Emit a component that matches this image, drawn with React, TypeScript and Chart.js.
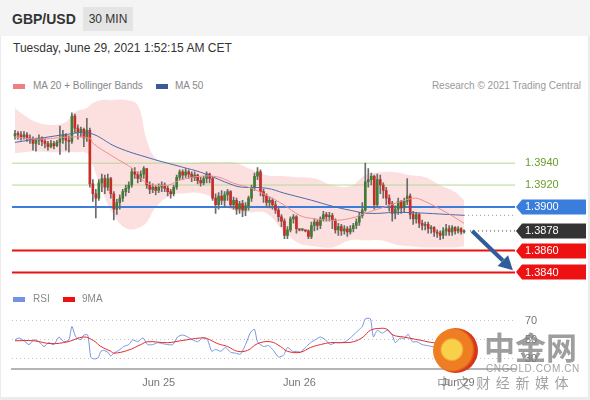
import React, { useEffect, useRef } from "react";
import { Chart, registerables } from "chart.js";
Chart.register(...registerables);

const FONT = '"Liberation Sans", Arial, sans-serif';

// ---- price candles (30 min), open = previous close ----
const firstOpen = 1.3965;
const closes = [
  1.3967, 1.3966, 1.3964, 1.3966, 1.3963, 1.3962, 1.3958, 1.3961, 1.3963, 1.396,
  1.3958, 1.3955, 1.3958, 1.3956, 1.3959, 1.3962, 1.3966, 1.3961, 1.396, 1.3983,
  1.3972, 1.3968, 1.3971, 1.3963, 1.397, 1.3921, 1.3912, 1.3908, 1.3922, 1.3926,
  1.3918, 1.3926, 1.3912, 1.3898, 1.3904, 1.3908, 1.3914, 1.3917, 1.392, 1.3932,
  1.393, 1.3926, 1.393, 1.3935, 1.392, 1.3916, 1.3918, 1.3915, 1.3918, 1.392,
  1.3917, 1.3914, 1.3912, 1.3918, 1.3927, 1.3932, 1.3929, 1.3932, 1.393, 1.3927,
  1.3929, 1.3924, 1.3922, 1.3926, 1.393, 1.3926, 1.3908, 1.3902, 1.391, 1.3906,
  1.3911, 1.3914, 1.3902, 1.3906, 1.3898, 1.3903, 1.3897, 1.3901, 1.3908, 1.3918,
  1.3928, 1.3932, 1.3914, 1.391, 1.3904, 1.3906, 1.3902, 1.3897, 1.3891, 1.3887,
  1.3874, 1.3879, 1.3889, 1.3891, 1.388, 1.3879, 1.3879, 1.3878, 1.3873, 1.3883,
  1.3886, 1.3883, 1.3889, 1.3893, 1.3891, 1.3892, 1.3888, 1.3879, 1.3882, 1.3878,
  1.388, 1.3877, 1.388, 1.3883, 1.3886, 1.3892, 1.3897, 1.3923, 1.3925, 1.3928,
  1.3902, 1.3925, 1.392, 1.3915, 1.3908, 1.3903, 1.3894, 1.3898, 1.3905, 1.3899,
  1.3905, 1.391, 1.3893, 1.3889, 1.3893, 1.3885, 1.3883, 1.3884, 1.388, 1.3881,
  1.3877, 1.3876, 1.3874, 1.3878, 1.388, 1.3877, 1.3881, 1.3878, 1.388, 1.3877,
  1.3878,
];
const highs = [
  1.397, 1.3969, 1.3969, 1.3969, 1.3968, 1.3966, 1.3964, 1.3963, 1.3966, 1.3964,
  1.3962, 1.396, 1.3961, 1.396, 1.3961, 1.3974, 1.397, 1.3967, 1.3965, 1.3986,
  1.3985, 1.3975, 1.3973, 1.3972, 1.3981, 1.3972, 1.3925, 1.3916, 1.3925, 1.393,
  1.3929, 1.393, 1.3927, 1.3914, 1.3907, 1.3911, 1.3916, 1.392, 1.3923, 1.3935,
  1.3936, 1.3932, 1.3933, 1.3937, 1.3935, 1.3923, 1.3921, 1.392, 1.3921, 1.3923,
  1.3922, 1.3919, 1.3916, 1.392, 1.3929, 1.3934, 1.3934, 1.3935, 1.3934, 1.3932,
  1.3932, 1.393, 1.3927, 1.3928, 1.3932, 1.3931, 1.3927, 1.3912, 1.3913, 1.3915,
  1.3914, 1.3916, 1.3915, 1.3909, 1.3908, 1.3905, 1.3906, 1.3904, 1.391, 1.392,
  1.3931, 1.3936, 1.3934, 1.3916, 1.3912, 1.3909, 1.3908, 1.3905, 1.3899, 1.3893,
  1.3889, 1.3882, 1.3891, 1.3893, 1.3892, 1.388, 1.388, 1.3879, 1.3879, 1.3886,
  1.3889, 1.3888, 1.3891, 1.3896, 1.3895, 1.3895, 1.3894, 1.3889, 1.3885, 1.3884,
  1.3883, 1.3882, 1.3883, 1.3885, 1.3889, 1.3895, 1.3904, 1.394, 1.3935, 1.3931,
  1.3929, 1.393, 1.3929, 1.3922, 1.3918, 1.3911, 1.3905, 1.3901, 1.3908, 1.3906,
  1.3908, 1.3926, 1.3912, 1.3896, 1.3895, 1.3894, 1.3888, 1.3886, 1.3886, 1.3883,
  1.3882, 1.3879, 1.3878, 1.3881, 1.3884, 1.3883, 1.3883, 1.3882, 1.3882, 1.3881,
  1.3879,
];
const lows = [
  1.3962, 1.3962, 1.3961, 1.3962, 1.396, 1.3958, 1.3952, 1.3951, 1.3957, 1.3956,
  1.3954, 1.3952, 1.3954, 1.3953, 1.3955, 1.3948, 1.3958, 1.3952, 1.395, 1.3958,
  1.3968, 1.3962, 1.3964, 1.3955, 1.396, 1.3918, 1.3905, 1.389, 1.3906, 1.3914,
  1.3912, 1.3915, 1.3908, 1.3888, 1.3893, 1.3898, 1.3905, 1.391, 1.3913, 1.3918,
  1.3926, 1.3922, 1.3923, 1.3926, 1.3917, 1.3912, 1.3913, 1.3911, 1.3913, 1.3914,
  1.3914, 1.391, 1.3908, 1.391, 1.3916, 1.3925, 1.3925, 1.3927, 1.3926, 1.3923,
  1.3924, 1.3921, 1.3919, 1.392, 1.3922, 1.3922, 1.3906, 1.3894, 1.3898, 1.3902,
  1.39, 1.3906, 1.3899, 1.3898, 1.3893, 1.3894, 1.3891, 1.3892, 1.3897, 1.3905,
  1.3915, 1.3925, 1.391, 1.3904, 1.39, 1.3899, 1.3898, 1.3894, 1.3887, 1.3882,
  1.3871, 1.3871, 1.3877, 1.3885, 1.3876, 1.3878, 1.3878, 1.3877, 1.3871, 1.3871,
  1.3878, 1.3879, 1.388, 1.3887, 1.3887, 1.3887, 1.388, 1.3876, 1.3874, 1.3874,
  1.3875, 1.3873, 1.3875, 1.3877, 1.388, 1.3883, 1.389, 1.3896, 1.3918, 1.392,
  1.3898, 1.39, 1.3912, 1.3908, 1.3902, 1.3896, 1.3887, 1.3889, 1.3893, 1.3894,
  1.3895, 1.3902, 1.3889, 1.3884, 1.3885, 1.3881, 1.3879, 1.3879, 1.3876, 1.3876,
  1.3873, 1.3872, 1.387, 1.3871, 1.3874, 1.3874, 1.3874, 1.3875, 1.3876, 1.3875,
  1.3876,
];

// ---- indicators (candle index, value) ----
const ma20Idx = [0, 8, 18, 25, 26, 32, 40, 44, 51, 55, 62, 68, 73, 79, 84, 90, 95, 99, 106, 112, 118, 122, 133, 136, 144, 150];
const ma20Val = [1.39639, 1.3962, 1.39639, 1.39629, 1.39583, 1.39473, 1.39336, 1.39217, 1.39198, 1.39244, 1.39281, 1.39272, 1.39217, 1.39171, 1.39106, 1.39015, 1.38923, 1.38895, 1.38877, 1.38895, 1.3895, 1.38987, 1.39079, 1.39061, 1.3895, 1.3885];
const ma50Idx = [0, 18, 25, 34, 45, 56, 62, 73, 76, 84, 90, 99, 106, 112, 118, 129, 150];
const ma50Val = [1.3959, 1.39666, 1.39675, 1.39547, 1.39446, 1.39363, 1.39317, 1.39198, 1.3918, 1.39171, 1.39125, 1.39061, 1.39006, 1.38969, 1.38941, 1.3895, 1.38923];
const bandIdx = [0, 3, 7, 12, 17, 20, 24, 26, 29, 33, 37, 41, 44, 47, 52, 57, 62, 68, 73, 78, 84, 90, 95, 100, 106, 112, 117, 122, 127, 132, 137, 142, 147, 150];
const bandUpper = [1.39905, 1.3984, 1.39776, 1.39749, 1.39776, 1.39868, 1.39905, 1.3995, 1.39978, 1.39978, 1.39978, 1.39932, 1.39611, 1.39446, 1.39409, 1.394, 1.39409, 1.39409, 1.39409, 1.39354, 1.3929, 1.39281, 1.39272, 1.39262, 1.39198, 1.39189, 1.3929, 1.39317, 1.39317, 1.3929, 1.39272, 1.39198, 1.39134, 1.39061];
const bandLower = [1.39492, 1.39501, 1.3951, 1.39501, 1.39501, 1.39501, 1.39492, 1.39382, 1.39152, 1.38923, 1.38804, 1.38804, 1.38859, 1.38996, 1.39106, 1.39125, 1.39125, 1.39061, 1.38969, 1.3895, 1.38941, 1.38767, 1.38666, 1.38639, 1.38629, 1.38694, 1.38694, 1.38694, 1.38657, 1.38639, 1.38629, 1.38629, 1.38629, 1.38639];

// ---- levels ----
const levelValues = [1.394, 1.392, 1.39, 1.3878, 1.386, 1.384];
const levelBoxColors = ["", "", "#3b7ddd", "#333333", "#ee1111", "#ee1111"];
const levelTextColors = ["#6a9e2c", "#6a9e2c", "#ffffff", "#ffffff", "#ffffff", "#ffffff"];
const greenLevels = [1.394, 1.392];
const blueLevels = [1.39];
const redLevels = [1.386, 1.384];
const lastPrice = 1.3878;
const lastPriceFrom = 152;
const ma50Ext = 1.38923;
const ma50ExtFrom = 150;
const arrowFrom = { x: 152.7, y: 1.3878 };
const arrowTo = { x: 166.3, y: 1.3842 };

// ---- RSI ----
const rsiIdx = [0, 1.3, 3, 4.7, 6.3, 8, 9.7, 11.3, 13, 14.7, 16.3, 18, 19, 20.3, 22, 23, 24.3, 25.3, 26.3, 27.7, 28.7, 29.7, 31, 32, 33, 34.7, 36.3, 38, 39.3, 41, 42.7, 44.3, 46, 47.7, 49.3, 51, 52.7, 54.3, 56, 57.7, 59.3, 61, 62.7, 64.3, 65.7, 67, 68.7, 70.3, 72, 73.7, 75.3, 77, 78.7, 80, 81, 83, 84.7, 86.3, 88, 89.7, 91, 92.7, 94.3, 95.3, 97, 98.7, 100.3, 102, 103.7, 105.3, 107, 108.7, 110.3, 112, 113.7, 114.7, 116, 117, 118.7, 119.7, 121, 122.7, 124.3, 126, 127, 128.7, 130, 131.3, 132.7, 134.3, 136, 137.7, 139.3, 142, 144.3, 147, 150];
const rsiVal = [50, 52, 49, 45, 50, 48, 43, 47, 45, 53, 48, 50, 64, 53, 50, 55, 55, 32, 30, 31, 38, 39, 37, 33, 36, 39, 43, 45, 50, 48, 52, 45, 45, 47, 46, 45, 45, 53, 55, 53, 50, 48, 52, 50, 38, 40, 38, 42, 37, 36, 35, 45, 58, 61, 48, 43, 44, 39, 32, 34, 42, 38, 38, 37, 42, 47, 50, 53, 50, 45, 47, 47, 48, 52, 57, 60, 64, 72, 72, 53, 60, 57, 60, 55, 47, 52, 51, 56, 48, 48, 45, 44, 43, 41, 45, 42, 44];
const ma9Idx = [0, 6.3, 12, 17.7, 23, 26.3, 28.7, 32, 33, 37.7, 42, 44.3, 51, 55.3, 62, 64, 67.7, 71, 74.3, 77.7, 81, 85.3, 88.7, 91, 95.3, 98.7, 102, 105.3, 108.7, 113, 116.3, 118.7, 122, 124.3, 126.3, 129.7, 133, 136.3, 139.7, 145, 150];
const ma9Val = [49, 49, 46, 48, 53, 49, 43, 38, 36, 39, 45, 48, 47, 49, 52, 51.5, 46, 43, 38, 39, 46, 48, 43, 38, 37, 42, 45, 47, 47, 48, 53, 60, 62, 61, 55, 53, 51, 49, 47, 46, 45];
const rsiTicks = [30, 50, 70];
const dateIdx = [48, 95, 148];
const dateLabels = ["Jun 25", "Jun 26", "Jun 29"];

const X_MIN = -1;
const X_MAX = 167;
const PAD_LEFT = 12;
const AXIS_W = 75;

const pts = (idx: number[], vals: number[]) => idx.map((x, k) => ({ x, y: vals[k] }));
const hline = (v: number, x0 = X_MIN, x1 = X_MAX) => [
  { x: x0, y: v },
  { x: x1, y: v },
];

function MainChart() {
  const ref = useRef<HTMLCanvasElement>(null);
  useEffect(() => {
    const opens = closes.map((c, i) => (i === 0 ? firstOpen : closes[i - 1]));
    const boxPlugin = {
      id: "levelBoxes",
      beforeDraw(chart: any) {
        const { ctx, chartArea } = chart;
        const ys = chart.scales.y;
        ctx.save();
        levelValues.forEach((v, k) => {
          const bg = levelBoxColors[k];
          if (!bg) return;
          const y = Math.round(ys.getPixelForValue(v));
          const x0 = chartArea.right + 1;
          const x1 = chartArea.right + 71;
          const h = 7.5;
          ctx.beginPath();
          ctx.moveTo(x0, y);
          ctx.lineTo(x0 + 6, y - h);
          ctx.lineTo(x1, y - h);
          ctx.lineTo(x1, y + h);
          ctx.lineTo(x0 + 6, y + h);
          ctx.closePath();
          ctx.fillStyle = bg;
          ctx.fill();
        });
        ctx.restore();
      },
    };
    const arrowPlugin = {
      id: "arrow",
      afterDatasetsDraw(chart: any) {
        const { ctx } = chart;
        const xs = chart.scales.x;
        const ys = chart.scales.y;
        const x0 = xs.getPixelForValue(arrowFrom.x);
        const y0 = ys.getPixelForValue(arrowFrom.y);
        const x1 = xs.getPixelForValue(arrowTo.x);
        const y1 = ys.getPixelForValue(arrowTo.y);
        const a = Math.atan2(y1 - y0, x1 - x0);
        const headLen = 14;
        const headW = 7.5;
        const bx = x1 - headLen * Math.cos(a);
        const by = y1 - headLen * Math.sin(a);
        ctx.save();
        ctx.strokeStyle = "#2f5d9c";
        ctx.fillStyle = "#2f5d9c";
        ctx.lineWidth = 4;
        ctx.beginPath();
        ctx.moveTo(x0, y0);
        ctx.lineTo(bx, by);
        ctx.stroke();
        ctx.beginPath();
        ctx.moveTo(x1, y1);
        ctx.lineTo(bx + headW * Math.sin(a), by - headW * Math.cos(a));
        ctx.lineTo(bx - headW * Math.sin(a), by + headW * Math.cos(a));
        ctx.closePath();
        ctx.fill();
        ctx.restore();
      },
    };
    const lineBase = { type: "line", pointRadius: 0, fill: false, tension: 0 };
    const datasets: any[] = [
      {
        type: "bar",
        label: "bodies",
        data: closes.map((c, i) => ({ x: i, y: [opens[i], c] })),
        backgroundColor: closes.map((c, i) => (c >= opens[i] ? "#3f7d34" : "#c62d28")),
        barThickness: 2,
        minBarLength: 1,
        grouped: false,
        order: 4,
      },
      {
        type: "bar",
        label: "wicks",
        data: closes.map((_, i) => ({ x: i, y: [lows[i], highs[i]] })),
        backgroundColor: "#6b6b6b",
        barThickness: 1,
        grouped: false,
        order: 5,
      },
      {
        ...lineBase,
        label: "bandUpper",
        data: pts(bandIdx, bandUpper),
        borderWidth: 0,
        borderColor: "rgba(0,0,0,0)",
        tension: 0.4,
        order: 20,
      },
      {
        ...lineBase,
        label: "bandLower",
        data: pts(bandIdx, bandLower),
        borderWidth: 0,
        borderColor: "rgba(0,0,0,0)",
        backgroundColor: "rgba(250, 198, 198, 0.55)",
        fill: "-1",
        tension: 0.4,
        order: 20,
      },
      ...greenLevels.map((v) => ({ ...lineBase, label: "g" + v, data: hline(v), borderColor: "#b3d890", borderWidth: 1, order: 10 })),
      ...blueLevels.map((v) => ({ ...lineBase, label: "b" + v, data: hline(v), borderColor: "#3b7ddd", borderWidth: 2, order: 10 })),
      ...redLevels.map((v) => ({ ...lineBase, label: "r" + v, data: hline(v), borderColor: "#ee1111", borderWidth: 2, order: 10 })),
      { ...lineBase, label: "MA 20", data: pts(ma20Idx, ma20Val), borderColor: "#f08c8c", borderWidth: 1, tension: 0.4, order: 2 },
      { ...lineBase, label: "MA 50", data: pts(ma50Idx, ma50Val), borderColor: "#4a6aa8", borderWidth: 1, tension: 0.4, order: 2 },
      { ...lineBase, label: "last", data: hline(lastPrice, lastPriceFrom), borderColor: "#333", borderWidth: 1, borderDash: [1, 3], order: 1 },
      { ...lineBase, label: "ma50ext", data: hline(ma50Ext, ma50ExtFrom), borderColor: "#7f93b8", borderWidth: 1, borderDash: [1, 3], order: 1 },
    ];
    const chart = new Chart(ref.current as HTMLCanvasElement, {
      type: "bar",
      data: { datasets },
      options: {
        animation: false,
        responsive: false,
        events: [],
        layout: { padding: { left: PAD_LEFT, right: 0, top: 0, bottom: 0 } },
        plugins: { legend: { display: false }, tooltip: { enabled: false } },
        scales: {
          x: { type: "linear", min: X_MIN, max: X_MAX, display: false, offset: false },
          y: {
            type: "linear",
            position: "right",
            min: 1.383,
            max: 1.4,
            afterFit: (s: any) => {
              s.width = AXIS_W;
            },
            afterBuildTicks: (s: any) => {
              s.ticks = levelValues.map((v) => ({ value: v }));
            },
            grid: { display: false, drawTicks: false },
            border: { display: false },
            ticks: {
              autoSkip: false,
              padding: 10,
              font: { family: FONT, size: 11 },
              color: (c: any) => levelTextColors[c.index] || "#fff",
              callback: (v: any) => Number(v).toFixed(4),
            },
          },
        },
      } as any,
      plugins: [boxPlugin, arrowPlugin],
    } as any);
    return () => chart.destroy();
  }, []);
  return (
    <canvas
      ref={ref}
      width={590}
      height={219}
      style={{ position: "absolute", left: 0, top: 81, width: 590, height: 219 }}
    />
  );
}

function RsiChart() {
  const ref = useRef<HTMLCanvasElement>(null);
  useEffect(() => {
    const chart = new Chart(ref.current as HTMLCanvasElement, {
      type: "line",
      data: {
        datasets: [
          { label: "9MA", data: pts(ma9Idx, ma9Val), borderColor: "#e42a2a", borderWidth: 1, pointRadius: 0, tension: 0.4 },
          { label: "RSI", data: pts(rsiIdx, rsiVal), borderColor: "#7394e2", borderWidth: 1, pointRadius: 0, tension: 0.2 },
        ],
      },
      options: {
        animation: false,
        responsive: false,
        events: [],
        layout: { padding: { left: PAD_LEFT, right: 0, top: 0, bottom: 0 } },
        plugins: { legend: { display: false }, tooltip: { enabled: false } },
        scales: {
          x: {
            type: "linear",
            min: X_MIN,
            max: X_MAX,
            offset: false,
            afterFit: (s: any) => {
              s.height = 31.5;
            },
            afterBuildTicks: (s: any) => {
              s.ticks = dateIdx.map((v) => ({ value: v }));
            },
            grid: { display: false, drawTicks: false },
            border: { display: true, color: "#b4b4b4", width: 2 },
            ticks: {
              autoSkip: false,
              maxRotation: 0,
              padding: 8,
              color: "#777",
              font: { family: FONT, size: 11 },
              callback: (v: any) => {
                const k = dateIdx.indexOf(Number(v));
                return k >= 0 ? dateLabels[k] : "";
              },
            },
          },
          y: {
            type: "linear",
            position: "right",
            min: 20,
            max: 90,
            afterFit: (s: any) => {
              s.width = AXIS_W;
            },
            afterBuildTicks: (s: any) => {
              s.ticks = rsiTicks.map((v) => ({ value: v }));
            },
            grid: { color: "#c4c4c4", lineWidth: 1, drawTicks: false },
            border: { display: false, dash: [1, 3] },
            ticks: {
              autoSkip: false,
              padding: 10,
              color: "#777",
              font: { family: FONT, size: 11 },
            },
          },
        },
      } as any,
    } as any);
    return () => chart.destroy();
  }, []);
  return (
    <canvas
      ref={ref}
      width={590}
      height={115}
      style={{ position: "absolute", left: 0, top: 285, width: 590, height: 115 }}
    />
  );
}

const txt = (extra: React.CSSProperties): React.CSSProperties => ({
  position: "absolute",
  fontFamily: FONT,
  whiteSpace: "nowrap",
  ...extra,
});

export default function App() {
  return (
    <div
      style={{
        position: "fixed",
        left: 0,
        top: 0,
        width: 590,
        height: 400,
        background: "#fff",
        overflow: "hidden",
        boxShadow: "inset -2px -3px 0 #ececec, inset 1px 0 0 #ececec",
      }}
    >
      <div style={{ position: "absolute", left: 0, top: 0, width: 590, height: 36, background: "#f4f4f4" }} />
      <div style={txt({ left: 12, top: 10, fontSize: 14, fontWeight: "bold", color: "#333", lineHeight: "18px" })}>GBP/USD</div>
      <div
        style={txt({
          left: 83,
          top: 7,
          width: 50,
          height: 24,
          background: "#e4e4e4",
          fontSize: 12,
          color: "#333",
          lineHeight: "24px",
          textAlign: "center",
        })}
      >
        30 MIN
      </div>
      <div style={txt({ left: 13, top: 40, fontSize: 12, color: "#333", lineHeight: "16px" })}>
        Tuesday, June 29, 2021 1:52:15 AM CET
      </div>

      <div style={{ position: "absolute", left: 13, top: 84, width: 12, height: 5, background: "#f08080" }} />
      <div style={txt({ left: 33, top: 80, fontSize: 10, color: "#888", lineHeight: "12px" })}>MA 20 + Bollinger Bands</div>
      <div style={{ position: "absolute", left: 156, top: 84, width: 12, height: 5, background: "#3a5a9a" }} />
      <div style={txt({ left: 175, top: 80, fontSize: 10, color: "#888", lineHeight: "12px" })}>MA 50</div>
      <div style={txt({ right: 9, top: 80, fontSize: 10, color: "#999", lineHeight: "12px" })}>Research © 2021 Trading Central</div>

      <MainChart />

      <div style={{ position: "absolute", left: 13, top: 297, width: 12, height: 5, background: "#7394e2" }} />
      <div style={txt({ left: 33, top: 293, fontSize: 10, color: "#888", lineHeight: "12px" })}>RSI</div>
      <div style={{ position: "absolute", left: 63, top: 297, width: 12, height: 5, background: "#ee1111" }} />
      <div style={txt({ left: 82, top: 293, fontSize: 10, color: "#888", lineHeight: "12px" })}>9MA</div>

      <RsiChart />

      {/* watermark */}
      <div
        style={{
          position: "absolute",
          left: 433,
          top: 328,
          width: 45,
          height: 45,
          borderRadius: "50%",
          background: "radial-gradient(circle at 42% 48%, #f8d04a 0 28%, #ef7d22 34% 58%, #d7361b 66%)",
        }}
      />
      <div style={txt({ left: 484, top: 326, fontSize: 31, fontWeight: "bold", color: "rgba(120,120,120,0.72)", lineHeight: "40px", fontFamily: '"Noto Sans CJK SC", sans-serif' })}>
        中金网
      </div>
      <div style={txt({ left: 486, top: 363, fontSize: 10, letterSpacing: 0.6, color: "rgba(140,140,140,0.8)", lineHeight: "11px" })}>
        CNGOLD.COM.CN
      </div>
      <div style={txt({ left: 437, top: 374, fontSize: 14, letterSpacing: 5.6, color: "rgba(130,130,130,0.75)", lineHeight: "17px", fontFamily: '"Noto Sans CJK SC", sans-serif' })}>
        中文财经新媒体
      </div>
    </div>
  );
}
